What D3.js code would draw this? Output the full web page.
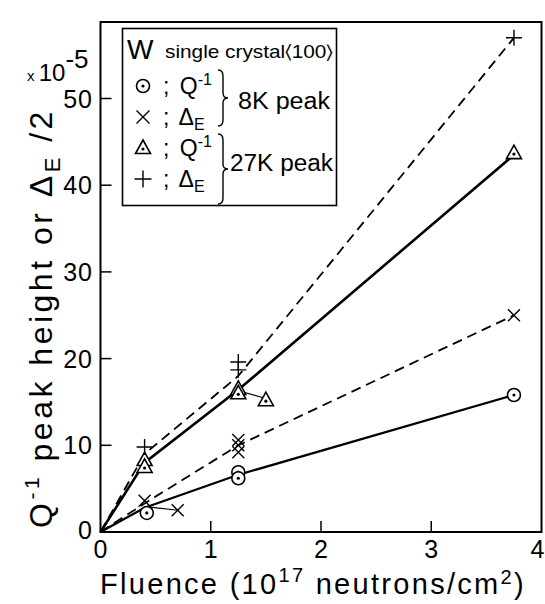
<!DOCTYPE html>
<html>
<head>
<meta charset="utf-8">
<script src="https://cdn.jsdelivr.net/npm/d3@7"></script>
<style>
  body { margin: 0; background: #fff; }
  text { font-family: "Liberation Sans", "DejaVu Sans", sans-serif; fill: #000; }
</style>
</head>
<body>
<svg id="chart" width="545" height="604"></svg>
<script>
// data (fluence in 1e17 n/cm2, value in 1e-5)
var xTicks = [0, 1, 2, 3, 4];
var yTicks = [0, 10, 20, 30, 40, 50];

var q8Points = [[0.42, 2.2], [1.25, 6.9], [1.25, 6.2], [3.75, 15.8]];
var q8Line = [[0, 0], [0.4, 2.8], [1.25, 6.6], [3.75, 15.8]];

var d8Points = [[0.4, 3.6], [0.7, 2.5], [1.25, 10.6], [1.25, 10.0], [1.25, 9.2], [3.75, 25.0]];
var d8Line = [[0, 0], [0.4, 3.3], [1.25, 10.0], [3.75, 25.0]];
var d8Branch = [[0.43, 2.9], [0.7, 2.5]];

var q27Points = [[0.4, 8.3], [0.4, 7.5], [1.25, 16.5], [1.25, 16.0], [1.5, 15.2], [3.75, 43.7]];
var q27Line = [[0, 0], [0.4, 8.0], [1.25, 16.4], [3.75, 43.5]];
var q27Branch = [[1.25, 16.3], [1.5, 15.4]];

var d27Points = [[0.4, 9.8], [1.25, 19.6], [1.25, 18.7], [3.75, 57.0]];
var d27Line = [[0, 0], [0.4, 9.0], [1.25, 18.0], [3.75, 57.0]];

var margin = {top: 22, right: 3, bottom: 72, left: 100};

var svg = d3.select("#chart");

var x = d3.scaleLinear().domain([0, 4]).range([margin.left + 0.5, 541.5]);
var y = d3.scaleLinear().domain([0, 50]).range([532, 98.5]);

var line = d3.line().x(function(d){ return x(d[0]); }).y(function(d){ return y(d[1]); });

// frame
svg.append("rect")
  .attr("x", x(0)).attr("y", margin.top)
  .attr("width", x(4) - x(0)).attr("height", y(0) - margin.top)
  .style("fill", "none").style("stroke", "#000").style("stroke-width", 2);

// ticks (inward)
svg.append("g").selectAll("line").data(yTicks.slice(1)).enter().append("line")
  .attr("x1", x(0)).attr("x2", x(0) + 11)
  .attr("y1", function(d){ return y(d); }).attr("y2", function(d){ return y(d); })
  .style("stroke", "#000").style("stroke-width", 1.5);
svg.append("g").selectAll("line").data(xTicks.slice(1, 4)).enter().append("line")
  .attr("x1", function(d){ return x(d); }).attr("x2", function(d){ return x(d); })
  .attr("y1", y(0)).attr("y2", y(0) - 11)
  .style("stroke", "#000").style("stroke-width", 1.5);

// tick labels
svg.append("g").selectAll("text").data(yTicks.slice(1)).enter().append("text")
  .attr("x", 93).attr("y", function(d){ return y(d) + 9; })
  .attr("text-anchor", "end").style("font-size", "25px").style("letter-spacing", "1px")
  .text(function(d){ return d; });
svg.append("text").attr("x", 92).attr("y", 539).attr("text-anchor", "end")
  .style("font-size", "25px").text("0");
svg.append("g").selectAll("text").data(xTicks).enter().append("text")
  .attr("x", function(d){ return d === 4 ? x(d) - 4 : x(d); }).attr("y", 558)
  .attr("text-anchor", "middle").style("font-size", "25px")
  .text(function(d){ return d; });

// x10^-5
var mult = svg.append("text").attr("x", 27).attr("y", 81).style("font-size", "24px");
mult.append("tspan").style("font-size", "15px").text("x ");
mult.append("tspan").text("10");
mult.append("tspan").attr("dy", -13).style("font-size", "26px").text("-5");

// axis titles
var xt = svg.append("text").attr("x", 313).attr("y", 594).attr("text-anchor", "middle")
  .style("font-size", "29px").style("letter-spacing", "2.3px");
xt.append("tspan").text("Fluence  (10");
xt.append("tspan").attr("dy", -12).style("font-size", "20px").text("17");
xt.append("tspan").attr("dy", 12).text(" neutrons/cm");
xt.append("tspan").attr("dy", -10).style("font-size", "20px").text("2");
xt.append("tspan").attr("dy", 10).text(")");

var yt = svg.append("text")
  .attr("transform", "translate(52," + 318 + ") rotate(-90)")
  .attr("text-anchor", "middle").style("font-size", "32px").style("letter-spacing", "3.5px");
yt.append("tspan").text("Q");
yt.append("tspan").attr("dy", -13).style("font-size", "21px").text("-1");
yt.append("tspan").attr("dy", 13).text(" peak height or  Δ");
yt.append("tspan").attr("dy", 8).style("font-size", "22px").text("E");
yt.append("tspan").attr("dy", -8).text(" /2");

// lines
function drawLine(data, dashed, w) {
  svg.append("path").datum(data).attr("d", line)
    .style("fill", "none").style("stroke", "#000")
    .style("stroke-width", w)
    .style("stroke-dasharray", dashed ? "10,6" : null);
}
drawLine(q8Line, false, 2.2);
drawLine(d8Line, true, 1.8);
drawLine(q27Line, false, 2.6);
drawLine(d27Line, true, 1.8);
drawLine(d8Branch, false, 1.1);
drawLine(q27Branch, false, 1.1);

// markers
function dotCircle(g, cx, cy) {
  g.append("circle").attr("cx", cx).attr("cy", cy).attr("r", 6.5)
    .style("fill", "#fff").style("stroke", "#000").style("stroke-width", 1.6);
  g.append("circle").attr("cx", cx).attr("cy", cy).attr("r", 1.6).style("fill", "#000");
}
function cross(g, cx, cy, s) {
  g.append("path").attr("d", "M" + (cx - s) + "," + (cy - s) + "L" + (cx + s) + "," + (cy + s) +
    "M" + (cx - s) + "," + (cy + s) + "L" + (cx + s) + "," + (cy - s))
    .style("stroke", "#000").style("stroke-width", 1.4);
}
function plus(g, cx, cy, s) {
  g.append("path").attr("d", "M" + (cx - s) + "," + cy + "L" + (cx + s) + "," + cy +
    "M" + cx + "," + (cy - s) + "L" + cx + "," + (cy + s))
    .style("stroke", "#000").style("stroke-width", 1.4);
}
function dotTriangle(g, cx, cy) {
  g.append("path").attr("d", "M" + cx + "," + (cy - 8) + "L" + (cx + 7.5) + "," + (cy + 5.5) +
    "L" + (cx - 7.5) + "," + (cy + 5.5) + "Z")
    .style("fill", "#fff").style("stroke", "#000").style("stroke-width", 1.6);
  g.append("circle").attr("cx", cx).attr("cy", cy + 1).attr("r", 1.6).style("fill", "#000");
}

var mk = svg.append("g");
q8Points.forEach(function(d){ dotCircle(mk, x(d[0]), y(d[1])); });
d8Points.forEach(function(d){ cross(mk, x(d[0]), y(d[1]), 6); });
q27Points.forEach(function(d){ dotTriangle(mk, x(d[0]), y(d[1])); });
d27Points.forEach(function(d){ plus(mk, x(d[0]), y(d[1]), 8); });

// legend
var lg = svg.append("g");
lg.append("rect").attr("x", 122.5).attr("y", 28.5).attr("width", 214).attr("height", 177)
  .style("fill", "#fff").style("stroke", "#000").style("stroke-width", 1.6);
lg.append("text").attr("x", 127).attr("y", 59).style("font-size", "28px").text("W");
lg.append("text").attr("x", 165).attr("y", 58).style("font-size", "19px")
  .attr("textLength", 168).attr("lengthAdjust", "spacingAndGlyphs")
  .text("single crystal\u2329100\u232A");

var rows = [86, 117, 148, 179];
dotCircle(lg, 143, rows[0]);
cross(lg, 143, rows[1], 6.5);
dotTriangle(lg, 143, rows[2]);
plus(lg, 143, rows[3], 8.5);

function legText(yy, kind) {
  var t = lg.append("text").attr("x", 163).attr("y", yy + 8).style("font-size", "23px");
  t.append("tspan").text("; ");
  if (kind === "Q") {
    t.append("tspan").attr("dx", 4).text("Q");
    t.append("tspan").attr("dy", -9).style("font-size", "16px").text("-1");
  } else {
    t.append("tspan").attr("dx", 4).text("Δ");
    t.append("tspan").attr("dy", 5).style("font-size", "16px").text("E");
  }
}
legText(rows[0], "Q");
legText(rows[1], "D");
legText(rows[2], "Q");
legText(rows[3], "D");

// braces
function brace(xb, y0, y1) {
  var m = (y0 + y1) / 2;
  lg.append("path")
    .attr("d", "M" + xb + "," + y0 + " Q" + (xb + 5) + "," + y0 + " " + (xb + 5) + "," + (y0 + 6) +
      " L" + (xb + 5) + "," + (m - 5) + " Q" + (xb + 5) + "," + m + " " + (xb + 10) + "," + m +
      " Q" + (xb + 5) + "," + m + " " + (xb + 5) + "," + (m + 5) +
      " L" + (xb + 5) + "," + (y1 - 6) + " Q" + (xb + 5) + "," + y1 + " " + xb + "," + y1)
    .style("fill", "none").style("stroke", "#000").style("stroke-width", 1.4);
}
brace(218, 70, 126);
brace(218, 134, 204);
lg.append("text").attr("x", 238).attr("y", 109).style("font-size", "23px")
  .attr("textLength", 92).attr("lengthAdjust", "spacingAndGlyphs").text("8K peak");
lg.append("text").attr("x", 230).attr("y", 171).style("font-size", "23px")
  .attr("textLength", 103).attr("lengthAdjust", "spacingAndGlyphs").text("27K peak");
</script>
</body>
</html>
